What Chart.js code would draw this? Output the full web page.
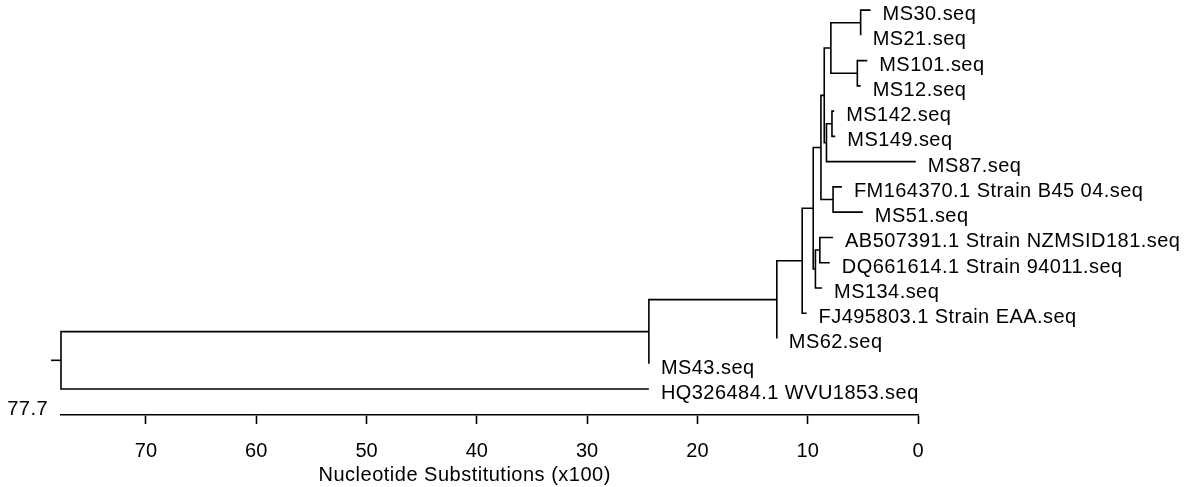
<!DOCTYPE html>
<html>
<head>
<meta charset="utf-8">
<script src="https://cdn.jsdelivr.net/npm/chart.js@4"></script>
<style>
  html, body { margin: 0; padding: 0; background: #fff; }
  #wrap { width: 1184px; height: 487px; }
</style>
</head>
<body>
<div id="wrap"><canvas id="treeChart" width="1184" height="487"></canvas></div>
<script>
// leaves, top to bottom
const leafNames = [
    'MS30.seq', 'MS21.seq', 'MS101.seq', 'MS12.seq', 'MS142.seq', 'MS149.seq', 'MS87.seq',
    'FM164370.1 Strain B45 04.seq', 'MS51.seq', 'AB507391.1 Strain NZMSID181.seq',
    'DQ661614.1 Strain 94011.seq', 'MS134.seq', 'FJ495803.1 Strain EAA.seq',
    'MS62.seq', 'MS43.seq', 'HQ326484.1 WVU1853.seq'
];
// where each leaf branch ends (substitutions x100, axis runs 77.7 -> 0)
const leafDist = [4.3, 5.2, 4.6, 5.2, 7.6, 7.5, 0.2, 6.9, 5.0, 7.7, 8.0, 8.7, 10.1, 12.8, 24.4, 24.4];

// internal nodes: position and the two children joined (L = leaf, N = node)
const nodeDist  = [5.2, 5.5, 7.9, 7.8, 8.3, 8.5, 7.7, 8.8, 8.9, 9.3, 9.5, 10.5, 12.8, 24.4, 77.7];
const nodeLeft  = ['L0', 'L2', 'N0', 'L4', 'N3', 'N2', 'L7', 'N5', 'L9', 'N8', 'N7', 'N10', 'N11', 'N12', 'N13'];
const nodeRight = ['L1', 'L3', 'N1', 'L5', 'L6', 'N4', 'L8', 'N6', 'L10', 'L11', 'N9', 'L12', 'L13', 'L14', 'L15'];
const rootStub = 78.6;

const xTicks = [0, 10, 20, 30, 40, 50, 60, 70];
const xMax = 77.7;
const xTitle = 'Nucleotide Substitutions (x100)';

const FONT = '"Liberation Sans", Arial, sans-serif';

function refX(ref) {
    const i = +ref.slice(1);
    return ref[0] === 'L' ? leafDist[i] : nodeDist[i];
}
function refY(ref) {
    const i = +ref.slice(1);
    if (ref[0] === 'L') return i;
    return (refY(nodeLeft[i]) + refY(nodeRight[i])) / 2;
}

// one bracket per node: left child -> node -> right child
const lineSets = nodeDist.map((d, i) => {
    const a = nodeLeft[i], b = nodeRight[i];
    return [
        {x: refX(a), y: refY(a)},
        {x: d, y: refY(a)},
        {x: d, y: refY(b)},
        {x: refX(b), y: refY(b)}
    ];
});
const rootY = refY('N' + (nodeDist.length - 1));
lineSets.push([{x: rootStub, y: rootY}, {x: xMax, y: rootY}]);

const datasets = lineSets.map(pts => ({
    data: pts,
    showLine: true,
    borderColor: '#000',
    borderWidth: 1.6,
    pointRadius: 0,
    fill: false,
    tension: 0,
    clip: false
}));

const labelPlugin = {
    id: 'treeLabels',
    afterDraw(chart) {
        const ctx = chart.ctx, xs = chart.scales.x, ys = chart.scales.y;
        ctx.save();
        ctx.fillStyle = '#000';
        ctx.font = '20px ' + FONT;
        ctx.letterSpacing = '0.45px';
        ctx.textBaseline = 'alphabetic';
        ctx.textAlign = 'left';
        leafNames.forEach((name, i) => {
            ctx.fillText(name, xs.getPixelForValue(leafDist[i]) + 12, ys.getPixelForValue(i) + 10);
        });
        const ax = chart.chartArea;
        ctx.textAlign = 'right';
        ctx.fillText(String(xMax), ax.left - 13, ax.bottom);
        ctx.textAlign = 'center';
        ctx.letterSpacing = '0.5px';
        ctx.fillText(xTitle, xs.getPixelForValue(41.1), ax.bottom + 66);
        ctx.restore();
    }
};

new Chart(document.getElementById('treeChart').getContext('2d'), {
    type: 'scatter',
    data: {datasets: datasets},
    options: {
        responsive: false,
        animation: false,
        layout: {padding: {left: 61, right: 266, top: 0, bottom: 9}},
        plugins: {legend: {display: false}, tooltip: {enabled: false}},
        scales: {
            x: {
                type: 'linear',
                reverse: true,
                min: 0,
                max: xMax,
                afterBuildTicks: function(scale) {
                    scale.ticks = xTicks.map(v => ({value: v}));
                },
                grid: {drawOnChartArea: false, drawTicks: true, tickLength: 9, tickColor: '#000', tickWidth: 1.6},
                border: {display: true, color: '#000', width: 1.6},
                ticks: {color: '#000', font: {size: 20, family: FONT}, padding: 15, autoSkip: false, maxRotation: 0}
            },
            y: {
                type: 'linear',
                display: false,
                reverse: true,
                min: -0.4,
                max: 16.03
            }
        }
    },
    plugins: [labelPlugin]
});
</script>
</body>
</html>
